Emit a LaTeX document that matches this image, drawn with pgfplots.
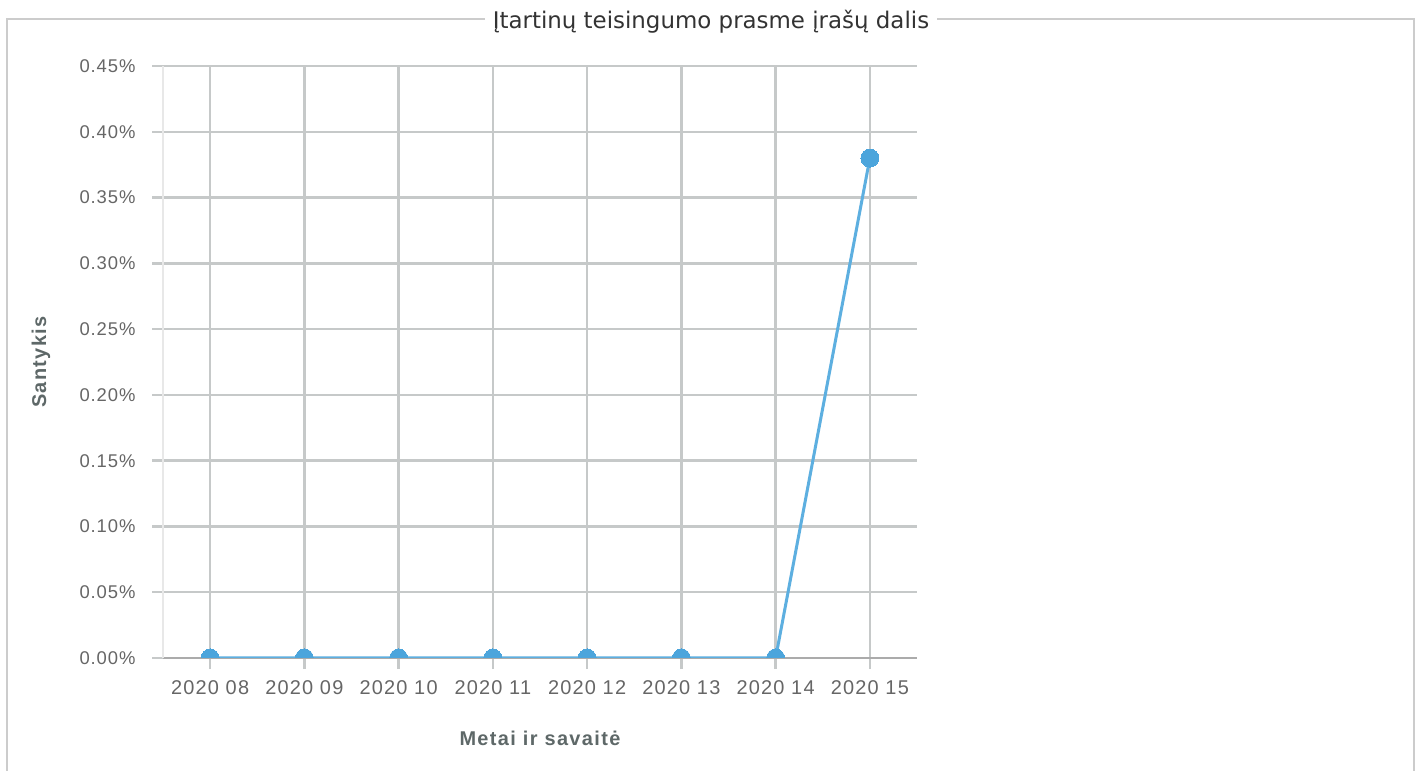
\documentclass[border=0pt]{standalone}
\usepackage{fontspec}
\usepackage{pgfplots}
\pgfplotsset{compat=1.18}
\setmainfont{Liberation Sans}
\newfontfamily\xtfont[LetterSpace=6]{Liberation Sans}
\newfontfamily\ytfont[LetterSpace=5]{Liberation Sans}
\newfontfamily\lbfont[LetterSpace=7]{Liberation Sans}
\newfontfamily\titlefont{DejaVu Sans}
\definecolor{gridgray}{HTML}{C6C9C9}
\definecolor{framegray}{HTML}{CCCCCC}
\definecolor{ticktext}{HTML}{666666}
\definecolor{labeltext}{HTML}{5E6868}
\definecolor{linecol}{HTML}{5DAFE0}
\definecolor{markcol}{HTML}{4CA5DC}
\definecolor{zeroline}{HTML}{ABABAB}
\begin{document}
\begin{tikzpicture}
\useasboundingbox (0,0) rectangle (1424bp,771bp);
\fill[white] (0,0) rectangle (1424bp,771bp);
\draw[framegray, line width=2bp] (7bp,-10bp) -- (7bp,752bp) -- (1413.5bp,752bp) -- (1413.5bp,-10bp);
\node[fill=white, inner xsep=8bp, inner ysep=2bp, anchor=base, text=black!80] at (711bp,742.5bp) {\titlefont\fontsize{23}{27}\selectfont Įtartinų teisingumo prasme įrašų dalis};
\begin{axis}[
  at={(163bp,113bp)}, anchor=south west,
  scale only axis, width=754bp, height=592bp,
  xmin=-0.5, xmax=7.5, ymin=0, ymax=0.45,
  axis x line*=bottom, axis y line*=left,
  x axis line style={draw=zeroline, line width=2.5bp, -},
  y axis line style={draw=black!9, line width=1.5bp, -},
  xtick={0,1,2,3,4,5,6,7},
  xticklabels={2020 08,2020 09,2020 10,2020 11,2020 12,2020 13,2020 14,2020 15},
  ytick={0,0.05,0.1,0.15,0.2,0.25,0.3,0.35,0.4,0.45},
  yticklabels={0.00\%,0.05\%,0.10\%,0.15\%,0.20\%,0.25\%,0.30\%,0.35\%,0.40\%,0.45\%},
  grid=major,
  major grid style={draw=gridgray, line width=2.5bp},
  tick align=outside, major tick length=11bp,
  tick style={draw=gridgray, line width=2.5bp},
  xticklabel style={font=\xtfont\fontsize{20}{23}\selectfont, text=ticktext, yshift=-8bp},
  yticklabel style={font=\ytfont\fontsize{18.5}{22}\selectfont, text=ticktext, xshift=-13bp},
  xlabel={Metai ir savaitė},
  ylabel={Santykis},
  label style={font=\lbfont\bfseries\fontsize{20}{23}\selectfont, text=labeltext},
  xlabel style={at={(axis description cs:0.5,-0.147)}, anchor=base},
  ylabel style={at={(axis description cs:-0.1618,0.5)}, anchor=center, rotate=0},
  clip marker paths=true,
]
\addplot[color=linecol, line width=3bp, mark=*, mark size=9bp, mark options={fill=markcol, draw=markcol, line width=0pt}]
  coordinates {(0,0) (1,0) (2,0) (3,0) (4,0) (5,0) (6,0) (7,0.38)};
\end{axis}
\end{tikzpicture}
\end{document}
